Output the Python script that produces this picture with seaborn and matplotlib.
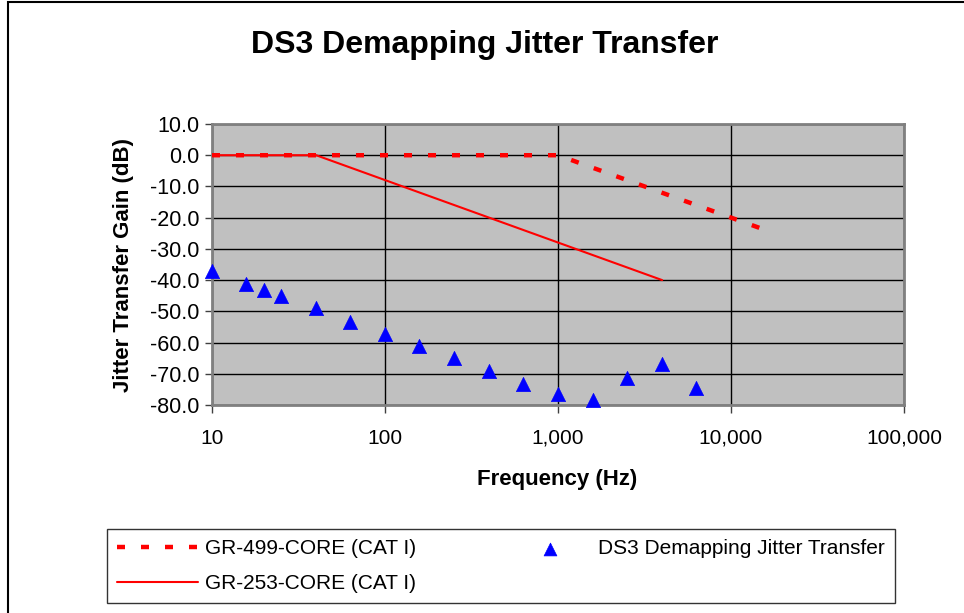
import matplotlib
matplotlib.use("Agg")
import matplotlib.pyplot as plt
import seaborn as sns
from matplotlib.ticker import FuncFormatter, NullLocator, FixedLocator
from matplotlib.patches import Rectangle

# --- data ---
freq_499 = [10, 1000, 15000]
gain_499 = [0.0, 0.0, -23.5]

freq_253 = [10, 40, 4000]
gain_253 = [0.0, 0.0, -40.0]

freq_ds3 = [10, 15.8, 20, 25, 40, 63, 100, 158, 251, 398, 631, 1000, 1585, 2512, 3981, 6310]
gain_ds3 = [-37.0, -41.3, -43.3, -45.1, -48.9, -53.3, -57.2, -61.1, -64.9, -69.2,
            -73.2, -76.4, -78.3, -71.2, -66.8, -74.5]

y_ticks = [10, 0, -10, -20, -30, -40, -50, -60, -70, -80]
x_ticks = [10, 100, 1000, 10000, 100000]

sns.set_style("white")
plt.rcParams['font.family'] = ['Liberation Sans', 'DejaVu Sans']
plt.rcParams['axes.unicode_minus'] = False
plt.rcParams['text.color'] = 'black'
plt.rcParams['axes.labelcolor'] = 'black'
plt.rcParams['xtick.color'] = 'black'
plt.rcParams['ytick.color'] = 'black'

fig = plt.figure(figsize=(9.64, 6.13), dpi=100)
ax = fig.add_axes([212 / 964, 1 - 405 / 613, 692 / 964, 281 / 613])
ax.set_facecolor('#C0C0C0')

ax.set_xscale('log')
ax.set_xlim(10, 100000)
ax.set_ylim(-80, 10)

# grid
ax.xaxis.set_major_locator(FixedLocator(x_ticks))
ax.xaxis.set_minor_locator(NullLocator())
ax.yaxis.set_major_locator(FixedLocator(y_ticks))
ax.grid(True, which='major', color='black', linewidth=1.0)
ax.set_axisbelow(True)

sns.lineplot(x=freq_253, y=gain_253, ax=ax, color='#FF0000', linewidth=1.5,
             label='GR-253-CORE (CAT I)', sort=False, zorder=3)
sns.lineplot(x=freq_499, y=gain_499, ax=ax, color='#FF0000', linewidth=3.2,
             linestyle=(0, (1.8, 3.6)), label='GR-499-CORE (CAT I)', sort=False, zorder=4)
sns.scatterplot(x=freq_ds3, y=gain_ds3, ax=ax, marker='^', s=105, color='#0000FF',
                edgecolor='#0000FF', linewidth=0.5, label='DS3 Demapping Jitter Transfer',
                zorder=5, clip_on=False)

ax.xaxis.set_major_formatter(FuncFormatter(lambda v, p: f"{v:,.0f}"))
ax.yaxis.set_major_formatter(FuncFormatter(lambda v, p: f"{v:.1f}"))
ax.tick_params(axis='y', which='major', direction='out', length=5, width=1,
               color='#404040', labelsize=15.5, pad=4, left=True)
ax.tick_params(axis='x', which='major', direction='out', length=6, width=1,
               color='#404040', labelsize=15, pad=11, bottom=True)

for sp in ax.spines.values():
    sp.set_color('#808080')
    sp.set_linewidth(2)

ax.set_xlabel('Frequency (Hz)', fontsize=16, fontweight='bold')
ax.set_ylabel('Jitter Transfer Gain (dB)', fontsize=16, fontweight='bold')
ax.xaxis.set_label_coords(0.499, -0.228)
ax.yaxis.set_label_coords(-0.1127, 0.5)

fig.text(485 / 964, 1 - 45 / 613, 'DS3 Demapping Jitter Transfer', fontsize=23,
         fontweight='bold', ha='center', va='center')

# legend at the bottom
ax.get_legend().remove()
h, l = ax.get_legend_handles_labels()
order = [1, 0, 2]
leg = fig.legend([h[i] for i in order], [l[i] for i in order], ncol=2,
                 loc='center', mode='expand',
                 bbox_to_anchor=(107 / 964, 1 - 606 / 613, 788 / 964, 80 / 613),
                 fontsize=15, frameon=True, fancybox=False, edgecolor='black',
                 handlelength=3.85, handletextpad=0.35, labelspacing=0.75, borderpad=0.5,
                 borderaxespad=0, markerscale=0.9)
leg.get_frame().set_linewidth(1.0)

# outer chart border (left and top visible, rest cropped)
fig.patches.append(Rectangle((8 / 964, -0.1), 1.2, 1.1 - 2 / 613, transform=fig.transFigure,
                             fill=False, edgecolor='black', linewidth=1.5))

fig.savefig('out.png', dpi=100)
